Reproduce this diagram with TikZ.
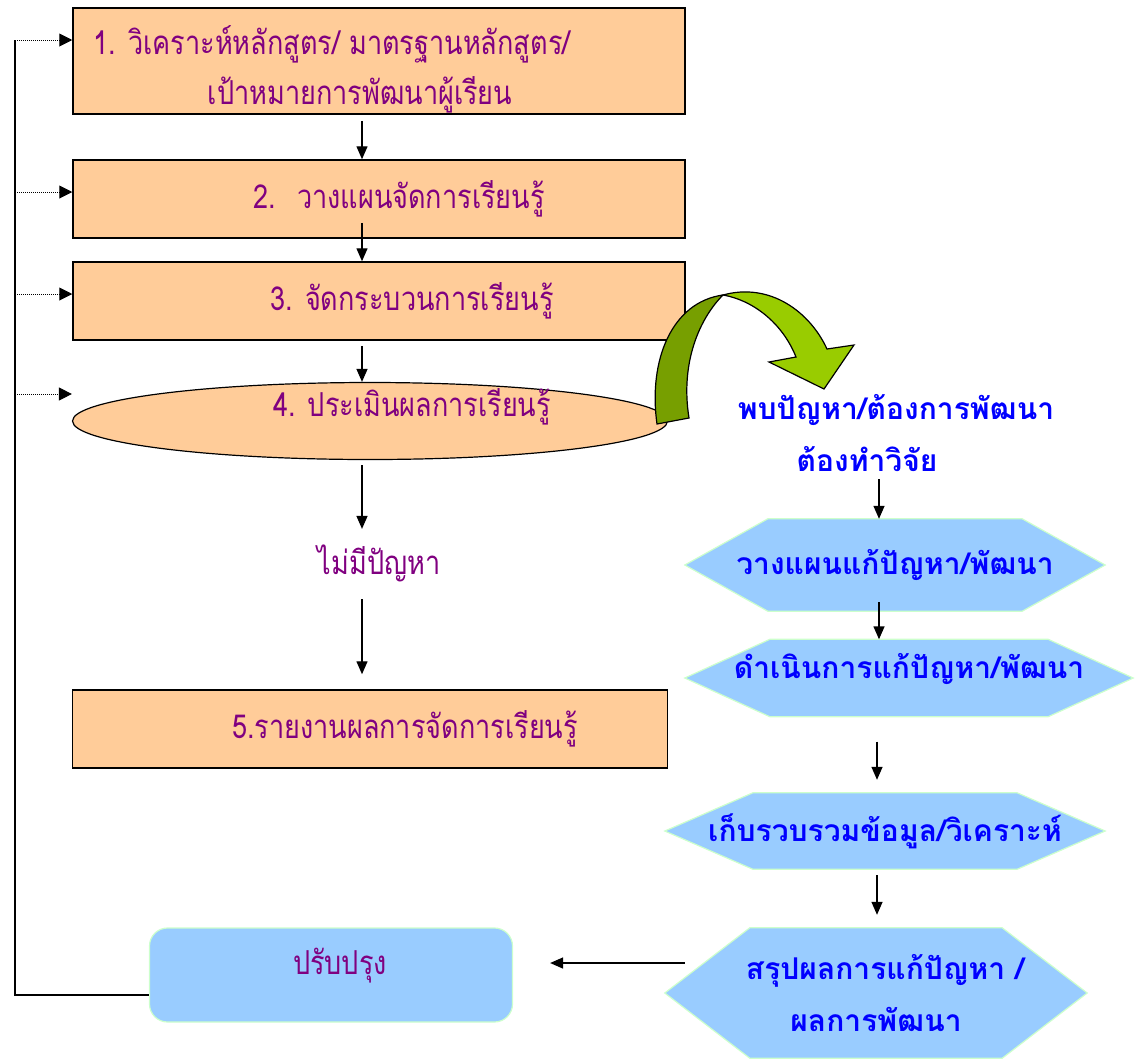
\documentclass[tikz,border=0pt]{standalone}
\usepackage{fontspec}
\newfontfamily\thaifont[Script=Thai, FakeStretch=0.82]{Loma}
\newfontfamily\thaibold[Script=Thai]{Loma}
\usetikzlibrary{arrows.meta, shapes.geometric, backgrounds}
\definecolor{peach}{HTML}{FFCC99}
\definecolor{skyblue}{HTML}{99CCFF}
\definecolor{mintline}{HTML}{CCFFCC}
\definecolor{plum}{HTML}{800080}
\definecolor{darkleaf}{HTML}{779F00}
\definecolor{lightleaf}{HTML}{99CC00}

\begin{document}
\begin{tikzpicture}[x=1pt, y=-1pt,
    box/.style={draw=black, line width=1.5pt, fill=peach, minimum width=612pt, minimum height=78pt,
                text=plum, font=\thaifont\fontsize{33pt}{50pt}\selectfont},
    note/.style={text=plum, font=\thaifont\fontsize{33pt}{50pt}\selectfont},
    fixbox/.style={draw=mintline, line width=1.2pt, fill=skyblue, rounded corners=18pt,
                   minimum width=363pt, minimum height=94pt, text=plum,
                   font=\thaifont\fontsize{33pt}{50pt}\selectfont},
    hexbox/.style={text=blue, font=\thaibold\bfseries\fontsize{30pt}{52pt}\selectfont},
    flow/.style={-{Triangle[length=13pt, width=11pt]}, line width=1.4pt},
    feed/.style={dash pattern=on 1pt off 1pt, line width=1pt, -{Triangle[length=13pt, width=13pt]}},
    rail/.style={line width=1.2pt}]
    \useasboundingbox (0,0) rectangle (1137,1058);

    % left column
    \node[box, minimum height=106pt] (analyse) at (379,61)
        {\raisebox{-43pt}[0pt][0pt]{\begin{tabular}[b]{@{}c@{}}1. วิเคราะห์หลักสูตร/ มาตรฐานหลักสูตร/\hspace*{94pt}\\
         เป้าหมายการพัฒนาผู้เรียน\hspace*{38pt}\end{tabular}}};
    \node[box] (plan) at (379,199) {\hspace*{40pt}2.~ วางแผนจัดการเรียนรู้};
    \node[box] (teach) at (379,301) {\hspace*{66pt}3. จัดกระบวนการเรียนรู้};
    \node[box, ellipse, line width=1.2pt, minimum width=595pt, minimum height=77pt] (assess) at (370,421)
        {\hspace*{84pt}\raisebox{5pt}[0pt][0pt]{4. ประเมินผลการเรียนรู้}};
    \node[note] (noproblem) at (379,563) {ไม่มีปัญหา};
    \node[box, minimum width=595pt] (report) at (370,729) {\hspace*{70pt}5.รายงานผลการจัดการเรียนรู้};
    \node[fixbox] (improve) at (331,975) {\hspace*{18pt}\raisebox{1pt}[0pt][0pt]{ปรับปรุง}};

    % right column
    \node[hexbox, align=center] (found) at (896,433) {พบปัญหา/ต้องการพัฒนา\\\hspace*{-58pt}ต้องทำวิจัย};
    \node[hexbox, minimum width=420pt, minimum height=92pt] (solve) at (895,565) {วางแผนแก้ปัญหา/พัฒนา};
    \node[hexbox, minimum width=448pt, minimum height=77pt] (act) at (909,678) {\raisebox{0pt}[0pt][0pt]{ดำเนินการแก้ปัญหา/พัฒนา}};
    \node[hexbox, minimum width=440pt, minimum height=76pt] (collect) at (885,831) {เก็บรวบรวมข้อมูล/วิเคราะห์};
    \node[hexbox, minimum width=422pt, minimum height=130pt, align=center] (conclude) at (876,993)
        {\hspace*{18pt}สรุปผลการแก้ปัญหา /\\ผลการพัฒนา};

    \begin{pgfonlayer}{background}
        \foreach \n/\d in {solve/83, act/85, collect/88, conclude/85} {
            \filldraw[fill=skyblue, draw=mintline, line width=1.2pt]
                (\n.west) -- ([xshift=\d]\n.north west) -- ([xshift=-\d]\n.north east) -- (\n.east)
                -- ([xshift=-\d]\n.south east) -- ([xshift=\d]\n.south west) -- cycle;
        }
    \end{pgfonlayer}

    % green curved arrow
    \filldraw[fill=darkleaf, draw=black, line width=1.2pt]
        (657,424) .. controls (648,360) and (672,302) .. (723,295)
        .. controls (700,318) and (680,362) .. (689,418) -- cycle;
    \filldraw[fill=lightleaf, draw=black, line width=1.2pt]
        (723,295) .. controls (770,282) and (810,312) .. (827,349) -- (854,345) -- (824,389)
        -- (769,362) -- (796,357) .. controls (782,322) and (752,300) .. (723,295) -- cycle;

    % flow arrows
    \coordinate (stem) at (362,0);
    \coordinate (rstem) at (879,0);
    \draw[flow, shorten <=6pt] (analyse.south -| stem) -- (plan.north -| stem);
    \draw[flow] ([yshift=16pt]plan.south -| stem) -- (teach.north -| stem);
    \draw[flow, shorten <=5pt] (teach.south -| stem) -- (assess.north -| stem);
    \draw[flow, shorten <=5pt, shorten >=12pt] (assess.south -| stem) -- (noproblem.north -| stem);
    \draw[flow, shorten <=14pt, shorten >=15pt] (noproblem.south -| stem) -- (report.north -| stem);
    \draw[flow, shorten <=4pt] (found.south -| rstem) -- (solve.north -| rstem);
    \draw[flow] ([yshift=9pt]solve.south -| rstem) -- (act.north -| rstem);
    \draw[flow, shorten <=25pt, shorten >=13pt] ([xshift=-2pt]act.south -| rstem) -- ([xshift=-2pt]collect.north -| rstem);
    \draw[flow, shorten <=6pt, shorten >=13pt] ([xshift=-2pt]collect.south -| rstem) -- ([xshift=-2pt]conclude.north -| rstem);
    \draw[flow, shorten >=37pt] ([xshift=20pt, yshift=30pt]conclude.west) -- ([yshift=30pt]conclude.west -| improve.east);

    % feedback rail
    \coordinate (rail) at (15,0);
    \draw[rail] ([yshift=-20pt]improve.west) -| ([yshift=21pt]analyse.west -| rail);
    \foreach \n/\s in {analyse/21, plan/7, teach/7, assess/27} {
        \draw[feed] ([yshift=\s pt]\n.west -| rail) -- ([yshift=\s pt]\n.west);
    }
\end{tikzpicture}
\end{document}
